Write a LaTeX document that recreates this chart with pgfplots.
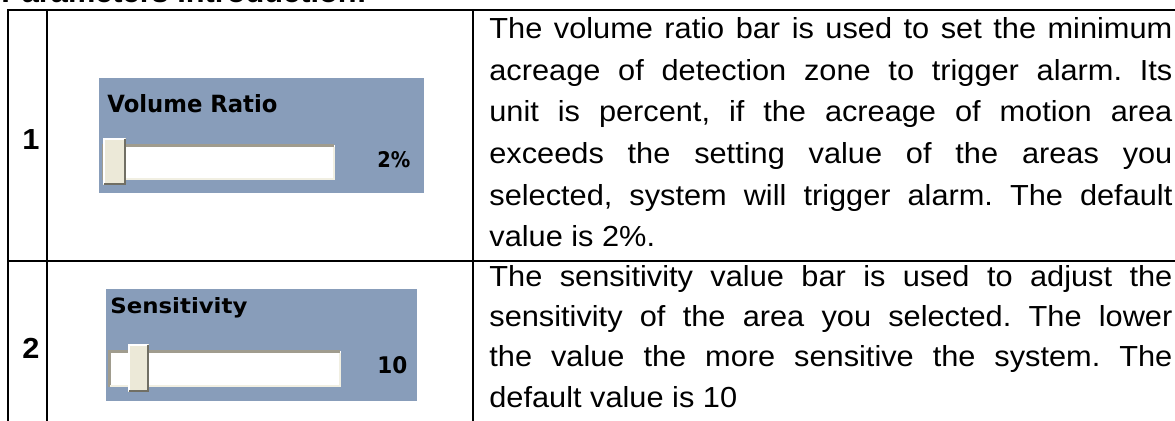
\documentclass[border=0pt]{standalone}
\usepackage{fontspec}
\setmainfont{Liberation Sans}
\newfontfamily\ui{DejaVu Sans}
\usepackage{graphicx}
\usepackage{pgfplots}
\pgfplotsset{compat=1.18}
\definecolor{panel}{RGB}{136,157,186}
\definecolor{trackdark}{RGB}{160,156,142}
\definecolor{tracklight}{RGB}{241,239,226}
\definecolor{thumb}{RGB}{236,233,216}
\definecolor{thumbdark}{RGB}{113,111,100}
\frenchspacing
\newcommand\body{\fontsize{14.5pt}{17pt}\selectfont}
\newcommand\jl[1]{\scalebox{1.06}[1]{\body\makebox[322.17pt][s]{#1}}}
\newcommand\nl[1]{\scalebox{1.06}[1]{\body #1}}
\begin{document}
\begin{tikzpicture}
\begin{axis}[width=587.5pt,height=210.5pt,scale only axis,
  xmin=0,xmax=1175,ymin=0,ymax=421,y dir=reverse,
  axis lines=none,ticks=none,clip=false]
% table rules
\addplot[black,line width=1.25pt,line join=miter] coordinates {(8,421)(8,10)(1175,10)};
\addplot[black,line width=1.25pt] coordinates {(47,10)(47,421)};
\addplot[black,line width=1.25pt] coordinates {(473,10)(473,421)};
\addplot[black,line width=1.25pt] coordinates {(8,261)(1175,261)};
% panel 1
\addplot[fill=panel,draw=none] coordinates {(99,78)(424,78)(424,193)(99,193)} --cycle;
\addplot[fill=white,draw=none] coordinates {(102,145)(335,145)(335,180)(102,180)} --cycle;
\addplot[trackdark,line width=1.5pt] coordinates {(103,180)(103,146)(334,146)};
\addplot[tracklight,line width=1pt] coordinates {(104,179)(334,179)(334,147)};
\addplot[fill=thumb,draw=none] coordinates {(103,138)(126,138)(126,185)(103,185)} --cycle;
\addplot[white,line width=1pt] coordinates {(104,184)(104,139)(125,139)};
\addplot[thumbdark,line width=1.25pt] coordinates {(104,184)(125,184)(125,139)};
% panel 2
\addplot[fill=panel,draw=none] coordinates {(106,289)(417,289)(417,401)(106,401)} --cycle;
\addplot[fill=white,draw=none] coordinates {(108,351)(341,351)(341,387)(108,387)} --cycle;
\addplot[trackdark,line width=1.5pt] coordinates {(109,387)(109,352)(340,352)};
\addplot[tracklight,line width=1pt] coordinates {(110,386)(340,386)(340,353)};
\addplot[fill=thumb,draw=none] coordinates {(128,344)(149,344)(149,392)(128,392)} --cycle;
\addplot[white,line width=1pt] coordinates {(129,391)(129,345)(148,345)};
\addplot[thumbdark,line width=1.25pt] coordinates {(129,391)(148,391)(148,345)};
% slider texts
\node[anchor=base west,inner sep=0] at (axis cs:107,113) {\resizebox{85pt}{9pt}{\ui\bfseries Volume Ratio}};
\node[anchor=base west,inner sep=0] at (axis cs:377,168) {\resizebox{16.5pt}{8pt}{\ui\bfseries 2\%}};
\node[anchor=base west,inner sep=0] at (axis cs:110,314) {\resizebox{68.5pt}{8pt}{\ui\bfseries Sensitivity}};
\node[anchor=base west,inner sep=0] at (axis cs:377,374) {\resizebox{15pt}{8.5pt}{\ui\bfseries 10}};
% row numbers
\node[inner sep=0] at (axis cs:31,140) {\nl{\bfseries 1}};
\node[inner sep=0] at (axis cs:31,348) {\nl{\bfseries 2}};
% title (cut off)
\node[anchor=base west,inner sep=0] at (axis cs:1,3) {\nl{\bfseries Parameters Introduction:}};
% paragraph 1
\node[anchor=base west,inner sep=0] at (axis cs:489,39) {\jl{The volume ratio bar is used to set the minimum}};
\node[anchor=base west,inner sep=0] at (axis cs:489,81) {\jl{acreage of detection zone to trigger alarm. Its}};
\node[anchor=base west,inner sep=0] at (axis cs:489,122) {\jl{unit is percent, if the acreage of motion area}};
\node[anchor=base west,inner sep=0] at (axis cs:489,164) {\jl{exceeds the setting value of the areas you}};
\node[anchor=base west,inner sep=0] at (axis cs:489,206) {\jl{selected, system will trigger alarm. The default}};
\node[anchor=base west,inner sep=0] at (axis cs:489,247) {\nl{value is 2\%.}};
% paragraph 2
\node[anchor=base west,inner sep=0] at (axis cs:489,287) {\jl{The sensitivity value bar is used to adjust the}};
\node[anchor=base west,inner sep=0] at (axis cs:489,327) {\jl{sensitivity of the area you selected. The lower}};
\node[anchor=base west,inner sep=0] at (axis cs:489,367) {\jl{the value the more sensitive the system. The}};
\node[anchor=base west,inner sep=0] at (axis cs:489,408) {\nl{default value is 10}};
\coordinate (BL) at (axis cs:0,421);
\coordinate (TR) at (axis cs:1175,0);
\end{axis}
\pgfresetboundingbox
\useasboundingbox (BL) rectangle (TR);
\end{tikzpicture}
\end{document}
